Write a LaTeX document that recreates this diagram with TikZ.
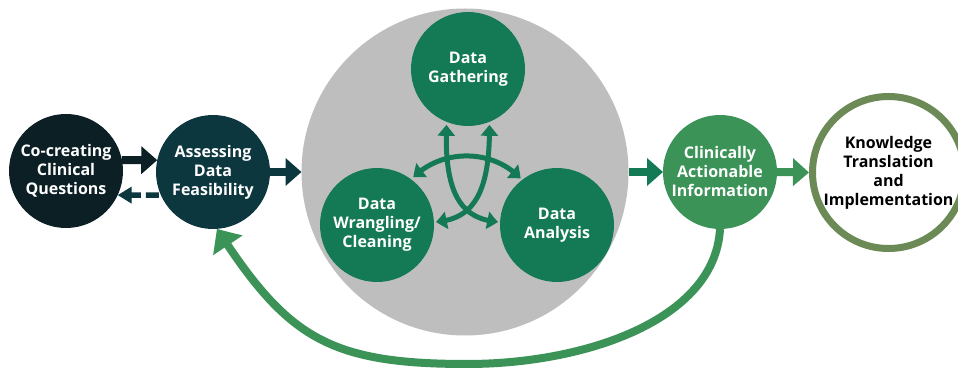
\documentclass[tikz,border=0pt]{standalone}
\usepackage{fontspec}
\setmainfont{Open Sans}
\usetikzlibrary{arrows.meta,bending}

\definecolor{inkdark}{HTML}{0B1F24}
\definecolor{tealdark}{HTML}{0C373E}
\definecolor{datagreen}{HTML}{147A56}
\definecolor{clingreen}{HTML}{3C9358}
\definecolor{olivering}{HTML}{6B8A56}
\definecolor{coregray}{HTML}{BEBEBE}

\begin{document}
\begin{tikzpicture}[x=1pt, y=-1pt,
  stage/.style={circle, inner sep=0pt, outer sep=0pt, minimum size=114pt,
    text=white, align=center, font=\fontsize{16}{19}\selectfont\bfseries},
  bigarrow/.style={line width=8pt, -{Triangle[width=27pt,length=16pt]}},
  innerarrow/.style={datagreen, line width=5pt, shorten <=3pt, shorten >=2pt,
    {Triangle[width=17pt,length=11pt,bend]}-{Triangle[width=17pt,length=11pt,bend]}}]

\useasboundingbox (0,0) rectangle (958,371);
\clip (0,0) rectangle (958,371);
\fill[white] (0,0) rectangle (958,371);

% outer stages
\node[stage, fill=inkdark] (co) at (66,171) {Co-creating\\Clinical\\Questions};
\node[stage, fill=tealdark] (ass) at (213,172) {Assessing\\Data\\Feasibility};

% data core with its three steps
\node[circle, fill=coregray, inner sep=0pt, outer sep=0pt, minimum size=327pt] (core) at (465,172) {};
\node[stage, fill=datagreen] (gath) at (468,69) {Data\\Gathering};
\node[stage, fill=datagreen] (wrang) at (377,225) {Data\\Wrangling/\\Cleaning};
\node[stage, fill=datagreen] (anal) at (557,225) {Data\\Analysis};

\node[stage, fill=clingreen] (cai) at (720,172) {Clinically\\Actionable\\Information};
\node[circle, draw=olivering, line width=7pt, fill=white, inner sep=0pt,
  outer sep=3.5pt, minimum size=152pt, align=center, text=black,
  font=\fontsize{16}{19}\selectfont\bfseries] (kt) at (888.5,172.5)
  {Knowledge\\Translation\\and\\Implementation};

% links between the stages
\draw[bigarrow, inkdark] (co.11) -- (ass.168);
\draw[tealdark, line width=5.5pt, dash pattern=on 13pt off 5pt, shorten <=2pt,
  -{Triangle[width=16pt,length=14pt]}] (ass.204) -- (co.-25);
\draw[bigarrow, tealdark] (ass.east) -- (core.west);
\draw[bigarrow, datagreen] (core.east) -- (cai.west);
\draw[bigarrow, clingreen] (cai.east) -- (kt.west);

% feedback loop
\draw[clingreen, line width=8pt, -{Triangle[width=34pt,length=20pt,bend]}]
  (cai.south) .. controls (715,320) and (585,364) .. (467,364)
  .. controls (328,364) and (287,337) .. (ass.-86);

% cycle inside the core
\draw[innerarrow] (gath.-112) .. controls (443,200) and (465,220) .. (anal.177);
\draw[innerarrow] (gath.-68) .. controls (491,200) and (469,220) .. (wrang.3);
\draw[innerarrow] (wrang.53) .. controls (440,148) and (494,148) .. (anal.128);

\end{tikzpicture}
\end{document}
